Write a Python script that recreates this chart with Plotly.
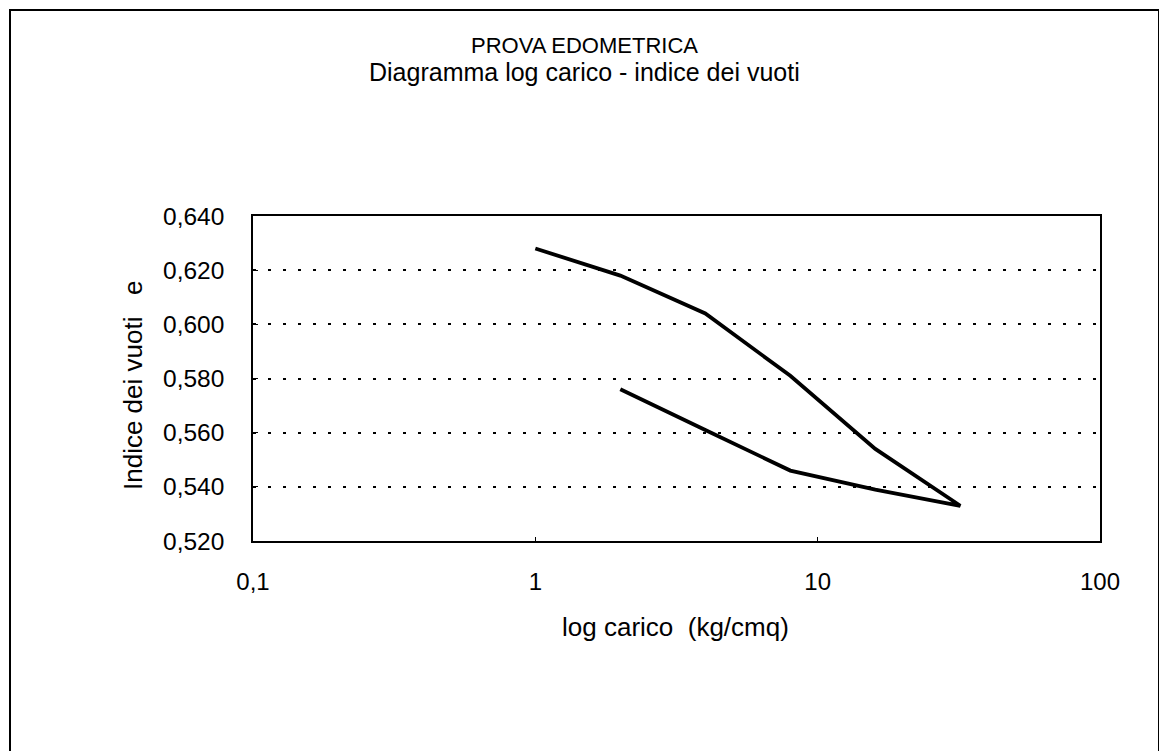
import plotly.graph_objects as go

# Data
carico = [1, 2, 4, 8, 16, 32, 16, 8, 4, 2]          # kg/cmq
indice_vuoti = [0.628, 0.618, 0.604, 0.581, 0.554, 0.533, 0.539, 0.546, 0.561, 0.576]

x_tickvals = [0.1, 1, 10, 100]
x_ticktext = ["0,1", "1", "10", "100"]
y_tickvals = [0.520, 0.540, 0.560, 0.580, 0.600, 0.620, 0.640]

OFF = 8                     # page body margin in the browser
W, H = 1167 - OFF, 751 - OFF
L, R, T, B = 253, 1100, 216, 541  # target plot area in page pixels

def px_to_paper_x(px):
    return (px - L) / (R - L)

def px_to_paper_y(py):
    return (B - py) / (B - T)

FONT = "Liberation Sans, Arial, sans-serif"
NB = "\u00a0"

fig = go.Figure()
fig.add_trace(go.Scatter(
    x=carico, y=indice_vuoti, mode="lines",
    line=dict(color="black", width=3.8),
    showlegend=False, hoverinfo="x+y"
))

fig.update_layout(
    width=W, height=H,
    margin=dict(l=L - OFF, r=(W + OFF) - R, t=T - OFF, b=(H + OFF) - B, pad=0),
    paper_bgcolor="white", plot_bgcolor="white",
    separators=",.",
    font=dict(family=FONT, color="black", size=24),
    xaxis=dict(
        type="log", range=[-1, 2],
        tickvals=x_tickvals, ticktext=x_ticktext,
        ticks="inside", ticklen=4, tickcolor="black",
        showline=True, linecolor="black", linewidth=1.5, mirror=True,
        showgrid=False, zeroline=False,
        ticklabelstandoff=18,
        tickfont=dict(size=24),
    ),
    yaxis=dict(
        range=[0.52, 0.64],
        tickvals=y_tickvals, tickformat=".3f",
        ticks="inside", ticklen=5, tickcolor="black",
        showline=True, linecolor="black", linewidth=1.5, mirror=True,
        showgrid=True, gridcolor="black", gridwidth=2, griddash="3px,12px",
        zeroline=False,
        ticklabelstandoff=22,
        tickfont=dict(size=24.5),
    ),
    annotations=[
        dict(text="PROVA EDOMETRICA", x=px_to_paper_x(584), y=px_to_paper_y(45),
             xref="paper", yref="paper", showarrow=False, xanchor="center", yanchor="middle",
             font=dict(size=22)),
        dict(text="Diagramma log carico - indice dei vuoti", x=px_to_paper_x(584), y=px_to_paper_y(72),
             xref="paper", yref="paper", showarrow=False, xanchor="center", yanchor="middle",
             font=dict(size=25)),
        dict(text="log carico" + NB + " (kg/cmq)", x=px_to_paper_x(675), y=px_to_paper_y(627),
             xref="paper", yref="paper", showarrow=False, xanchor="center", yanchor="middle",
             font=dict(size=26)),
        dict(text="Indice dei vuoti" + NB * 2 + " e", x=px_to_paper_x(133), y=px_to_paper_y(385),
             xref="paper", yref="paper", showarrow=False, xanchor="center", yanchor="middle",
             textangle=-90, font=dict(size=26)),
    ],
    shapes=[
        dict(type="rect", xref="paper", yref="paper",
             x0=px_to_paper_x(10), x1=px_to_paper_x(1159),
             y0=px_to_paper_y(770), y1=px_to_paper_y(10),
             line=dict(color="black", width=2), fillcolor="rgba(0,0,0,0)", layer="below"),
    ],
)

fig.write_html("out.html")
